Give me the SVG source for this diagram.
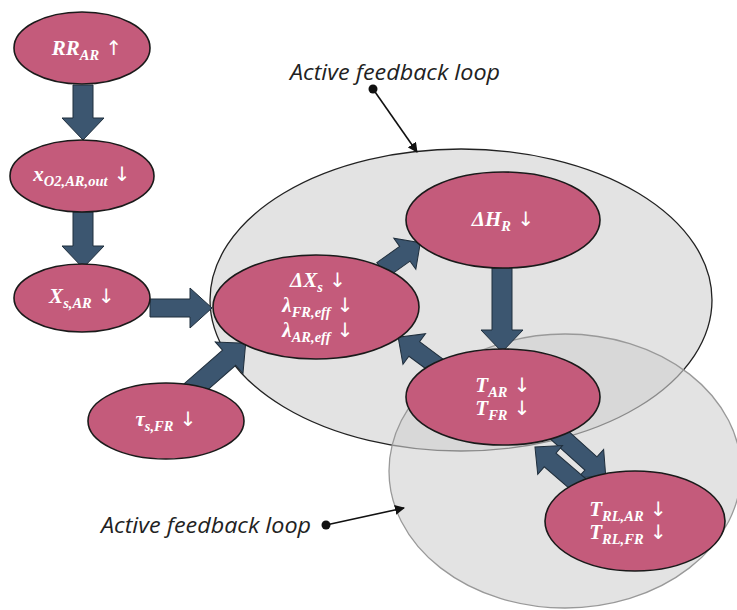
<svg xmlns="http://www.w3.org/2000/svg" width="737" height="610" viewBox="0 0 737 610">
<defs>
<marker id="ah" markerWidth="10" markerHeight="10" refX="9" refY="5" orient="auto" markerUnits="userSpaceOnUse"><path d="M0,0 L10,5 L0,10 Z" fill="#111"/></marker>
<style>
.loop{fill:#d0d0d0;fill-opacity:0.6;}
.l1{stroke:#222;stroke-width:1.3;}
.l2{stroke:#999;stroke-width:1.3;}
.node{fill:#c45b7b;stroke:#1a1a1a;stroke-width:1.6;}
.arr{fill:#3c5670;stroke:#1f2e3c;stroke-width:1;}
.t{font-family:"Liberation Serif","DejaVu Serif",serif;font-weight:bold;font-style:italic;font-size:21px;fill:#fff;text-anchor:middle;}
.s{font-size:14.5px;}
.up{font-style:normal;font-weight:normal;font-family:"DejaVu Sans",sans-serif;font-size:20px;}
.lab{font-family:"Open Sans","Liberation Sans",sans-serif;font-style:italic;font-size:21.5px;fill:#222;}
.ann{stroke:#111;stroke-width:1.6;fill:none;}
</style>
</defs>
<rect width="737" height="610" fill="#fff"/>
<g id="loops">
<ellipse class="loop l1" cx="461" cy="300" rx="251" ry="151"/>
<ellipse class="loop l2" cx="565" cy="471" rx="176" ry="137"/>
</g>
<g id="connectors">
<polygon class="arr" transform="translate(83,85) rotate(90)" points="0,-10 33,-10 33,-21 55,0 33,21 33,10 0,10"/>
<polygon class="arr" transform="translate(83,212) rotate(90)" points="0,-10 34,-10 34,-21 56,0 34,21 34,10 0,10"/>
<polygon class="arr" transform="translate(150,308)" points="0,-9 40,-9 40,-20 62,0 40,20 40,9 0,9"/>
<polygon class="arr" transform="translate(190,392) rotate(-41.2)" points="0,-10 52,-10 52,-21 74,0 52,21 52,10 0,10"/>
<polygon class="arr" transform="translate(382,270) rotate(-35.4)" points="0,-9 28,-9 28,-19 47,0 28,19 28,9 0,9"/>
<polygon class="arr" transform="translate(502,268) rotate(90)" points="0,-10 62,-10 62,-21 84,0 62,21 62,10 0,10"/>
<polygon class="arr" transform="translate(440,368) rotate(216.4)" points="0,-9 32,-9 32,-19 52,0 32,19 32,9 0,9"/>
<polygon class="arr" transform="translate(556,432) rotate(42)" points="0,-9 47,-9 47,-19 67,0 47,19 47,9 0,9"/>
<polygon class="arr" transform="translate(585,490) rotate(220.7)" points="0,-9 46,-9 46,-19 66,0 46,19 46,9 0,9"/>
<line class="ann" x1="373" y1="89" x2="417" y2="152" marker-end="url(#ah)"/>
<circle cx="373" cy="89" r="4.5" fill="#111"/>
<line class="ann" x1="326" y1="525" x2="404" y2="508" marker-end="url(#ah)"/>
<circle cx="326" cy="525" r="4.5" fill="#111"/>
</g>
<g id="n-rr"><ellipse class="node" cx="82" cy="48" rx="68" ry="36"/>
<text class="t" x="87" y="55">RR<tspan class="s" dy="5">AR</tspan><tspan class="up" dy="-5"> ↑</tspan></text></g>
<g id="n-xo2"><ellipse class="node" cx="82" cy="176" rx="72" ry="36"/>
<text class="t" x="82" y="181">x<tspan class="s" dy="5">O2,AR,out</tspan><tspan class="up" dy="-5"> ↓</tspan></text></g>
<g id="n-xs"><ellipse class="node" cx="82" cy="298" rx="68" ry="34"/>
<text class="t" x="82" y="303">X<tspan class="s" dy="5">s,AR</tspan><tspan class="up" dy="-5"> ↓</tspan></text></g>
<g id="n-dxs"><ellipse class="node" cx="316" cy="307" rx="103" ry="52"/>
<text class="t" x="318" y="287">ΔX<tspan class="s" dy="5">s</tspan><tspan class="up" dy="-5"> ↓</tspan></text>
<text class="t" x="318" y="312">λ<tspan class="s" dy="5">FR,eff</tspan><tspan class="up" dy="-5"> ↓</tspan></text>
<text class="t" x="318" y="337">λ<tspan class="s" dy="5">AR,eff</tspan><tspan class="up" dy="-5"> ↓</tspan></text></g>
<g id="n-dh"><ellipse class="node" cx="503" cy="220" rx="97" ry="48"/>
<text class="t" x="503" y="226">ΔH<tspan class="s" dy="5">R</tspan><tspan class="up" dy="-5"> ↓</tspan></text></g>
<g id="n-tar"><ellipse class="node" cx="503" cy="397" rx="97" ry="48"/>
<text class="t" x="503" y="392">T<tspan class="s" dy="5">AR</tspan><tspan class="up" dy="-5"> ↓</tspan></text>
<text class="t" x="503" y="415">T<tspan class="s" dy="5">FR</tspan><tspan class="up" dy="-5"> ↓</tspan></text></g>
<g id="n-trl"><ellipse class="node" cx="635" cy="521" rx="90" ry="50"/>
<text class="t" x="628" y="516">T<tspan class="s" dy="5">RL,AR</tspan><tspan class="up" dy="-5"> ↓</tspan></text>
<text class="t" x="628" y="539">T<tspan class="s" dy="5">RL,FR</tspan><tspan class="up" dy="-5"> ↓</tspan></text></g>
<g id="n-tau"><ellipse class="node" cx="166" cy="421" rx="78" ry="38"/>
<text class="t" x="166" y="426">τ<tspan class="s" dy="5">s,FR</tspan><tspan class="up" dy="-5"> ↓</tspan></text></g>
<g id="labels">
<text class="lab" x="290" y="80" textLength="210" lengthAdjust="spacingAndGlyphs">Active feedback loop</text>
<text class="lab" x="101" y="533" textLength="210" lengthAdjust="spacingAndGlyphs">Active feedback loop</text>
</g>
</svg>
